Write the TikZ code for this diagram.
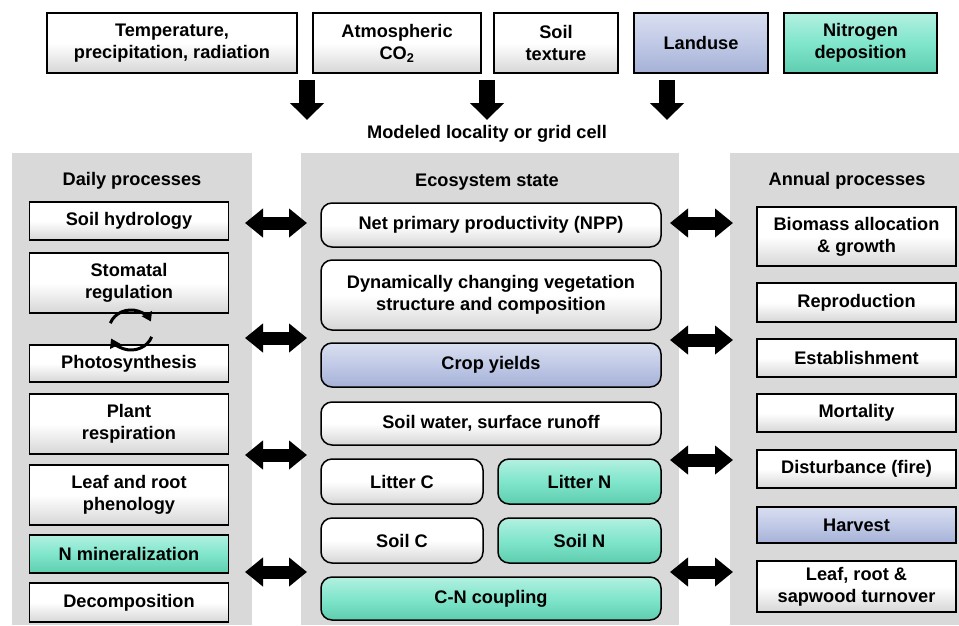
\documentclass[tikz,border=0pt]{standalone}
\usepackage{fontspec}
\setmainfont{Liberation Sans}
\usetikzlibrary{arrows.meta}
\definecolor{panelgray}{RGB}{217,217,217}
\definecolor{blueF}{RGB}{192,201,230}
\definecolor{blueD}{RGB}{165,177,214}
\definecolor{tealF}{RGB}{128,230,204}
\definecolor{tealD}{RGB}{95,205,175}
\tikzset{
  base/.style={draw=black, line width=1.5pt, align=center, inner sep=0pt, font=\bfseries\fontsize{18.2}{22}\selectfont},
  whitefill/.style={top color=white, bottom color=black!16, middle color=white},
  bluefill/.style={top color=blueF!60!white, bottom color=blueD, middle color=blueF},
  tealfill/.style={top color=tealF!60!white, bottom color=tealD, middle color=tealF},
  sqbox/.style={base},
  rdbox/.style={base, rounded corners=11pt},
  panelbox/.style={fill=panelgray, draw=none, inner sep=0pt},
  hdr/.style={font=\bfseries\fontsize{18.2}{22}\selectfont, inner sep=0pt},
  dblarr/.style={line width=13pt, {Triangle[length=18pt,width=28pt]}-{Triangle[length=18pt,width=28pt]}},
  downarr/.style={line width=16pt, -{Triangle[length=17pt,width=33pt]}},
  cycarr/.style={line width=3pt, -{Triangle[length=9pt,width=11pt]}}
}
\begin{document}
\begin{tikzpicture}[x=1pt,y=-1pt]
\useasboundingbox (0,0) rectangle (959,625);
% panels
\node[panelbox, minimum width=240pt, minimum height=472pt] (lpanel) at (132,389) {};
\node[panelbox, minimum width=378pt, minimum height=472pt] (cpanel) at (490,389) {};
\node[panelbox, minimum width=229pt, minimum height=472pt] (rpanel) at (844.5,389) {};
% top inputs
\node[sqbox, whitefill, minimum width=250pt, minimum height=60pt] (temp) at (172,43) {Temperature,\\precipitation, radiation};
\node[sqbox, whitefill, minimum width=168pt, minimum height=60pt] (co2) at (397,43) {Atmospheric\\CO\textsubscript{2}};
\node[sqbox, whitefill, minimum width=124pt, minimum height=60pt] (soilt) at (556,43) {Soil\\texture};
\node[sqbox, bluefill, minimum width=134pt, minimum height=60pt] (land) at (701,43) {Landuse};
\node[sqbox, tealfill, minimum width=153pt, minimum height=60pt] (ndep) at (860.5,43) {Nitrogen\\deposition};
% grid cell label
\node[hdr] (grid) at (487,134) {Modeled locality or grid cell};
% down arrows
\coordinate (d1s) at (307,80); \coordinate (d1e) at (307,120);
\coordinate (d2s) at (487,80); \coordinate (d2e) at (487,120);
\coordinate (d3s) at (667,80); \coordinate (d3e) at (667,120);
\draw[downarr] (d1s) -- (d1e);
\draw[downarr] (d2s) -- (d2e);
\draw[downarr] (d3s) -- (d3e);
% headers
\node[hdr] (hdaily) at (132,181) {Daily processes};
\node[hdr] (heco) at (487,182) {Ecosystem state};
\node[hdr] (hann) at (847,181) {Annual processes};
% left column
\node[sqbox, whitefill, minimum width=199pt, minimum height=38pt] (soilhyd) at (129,221) {Soil hydrology};
\node[sqbox, whitefill, minimum width=199pt, minimum height=60pt] (stom) at (129,283) {Stomatal\\regulation};
\node[sqbox, whitefill, minimum width=199pt, minimum height=37pt] (photo) at (129,363.5) {Photosynthesis};
\node[sqbox, whitefill, minimum width=199pt, minimum height=60pt] (resp) at (129,424) {Plant\\respiration};
\node[sqbox, whitefill, minimum width=199pt, minimum height=60pt] (pheno) at (129,495) {Leaf and root\\phenology};
\node[sqbox, tealfill, minimum width=199pt, minimum height=38pt] (nmin) at (129,554) {N mineralization};
\node[sqbox, whitefill, minimum width=199pt, minimum height=39pt] (decomp) at (129,602.5) {Decomposition};
% cycle arrows
\coordinate (cyc) at (131,330);
\draw[cycarr] (cyc) ++(200:22 and 20) arc[start angle=200, end angle=335, x radius=22, y radius=20];
\draw[cycarr] (cyc) ++(20:22 and 20) arc[start angle=20, end angle=155, x radius=22, y radius=20];
% center column
\node[rdbox, whitefill, minimum width=340pt, minimum height=44pt] (npp) at (491,225) {Net primary productivity (NPP)};
\node[rdbox, whitefill, minimum width=340pt, minimum height=70pt] (dyn) at (491,295) {Dynamically changing vegetation\\structure and composition};
\node[rdbox, bluefill, minimum width=340pt, minimum height=44pt] (crop) at (491,365) {Crop yields};
\node[rdbox, whitefill, minimum width=340pt, minimum height=43pt] (water) at (491,423.5) {Soil water, surface runoff};
\node[rdbox, whitefill, minimum width=162pt, minimum height=45pt] (litc) at (402,481.5) {Litter C};
\node[rdbox, tealfill, minimum width=163pt, minimum height=45pt] (litn) at (579.5,481.5) {Litter N};
\node[rdbox, whitefill, minimum width=162pt, minimum height=45pt] (soilc) at (402,540.5) {Soil C};
\node[rdbox, tealfill, minimum width=163pt, minimum height=45pt] (soiln) at (579.5,540.5) {Soil N};
\node[rdbox, tealfill, minimum width=340pt, minimum height=43pt] (cn) at (491,598.5) {C-N coupling};
% right column
\node[sqbox, whitefill, minimum width=199pt, minimum height=59pt] (bio) at (856.5,236.5) {Biomass allocation\\\& growth};
\node[sqbox, whitefill, minimum width=199pt, minimum height=39pt] (repro) at (856.5,302.5) {Reproduction};
\node[sqbox, whitefill, minimum width=199pt, minimum height=38pt] (estab) at (856.5,358) {Establishment};
\node[sqbox, whitefill, minimum width=199pt, minimum height=38pt] (mort) at (856.5,413) {Mortality};
\node[sqbox, whitefill, minimum width=199pt, minimum height=38pt] (dist) at (856.5,469) {Disturbance (fire)};
\node[sqbox, bluefill, minimum width=199pt, minimum height=36pt] (harv) at (856.5,525) {Harvest};
\node[sqbox, whitefill, minimum width=199pt, minimum height=51pt] (turn) at (856.5,586.5) {Leaf, root \&\\sapwood turnover};
% left double arrows
\foreach \i/\yy in {1/223,2/338,3/455,4/572}{
  \coordinate (la\i) at (245,\yy); \coordinate (lb\i) at (307,\yy);
  \draw[dblarr] (la\i) -- (lb\i);
}
% right double arrows
\foreach \i/\yy in {1/223,2/340,3/460,4/572}{
  \coordinate (ra\i) at (670,\yy); \coordinate (rb\i) at (733,\yy);
  \draw[dblarr] (ra\i) -- (rb\i);
}
\end{tikzpicture}
\end{document}
